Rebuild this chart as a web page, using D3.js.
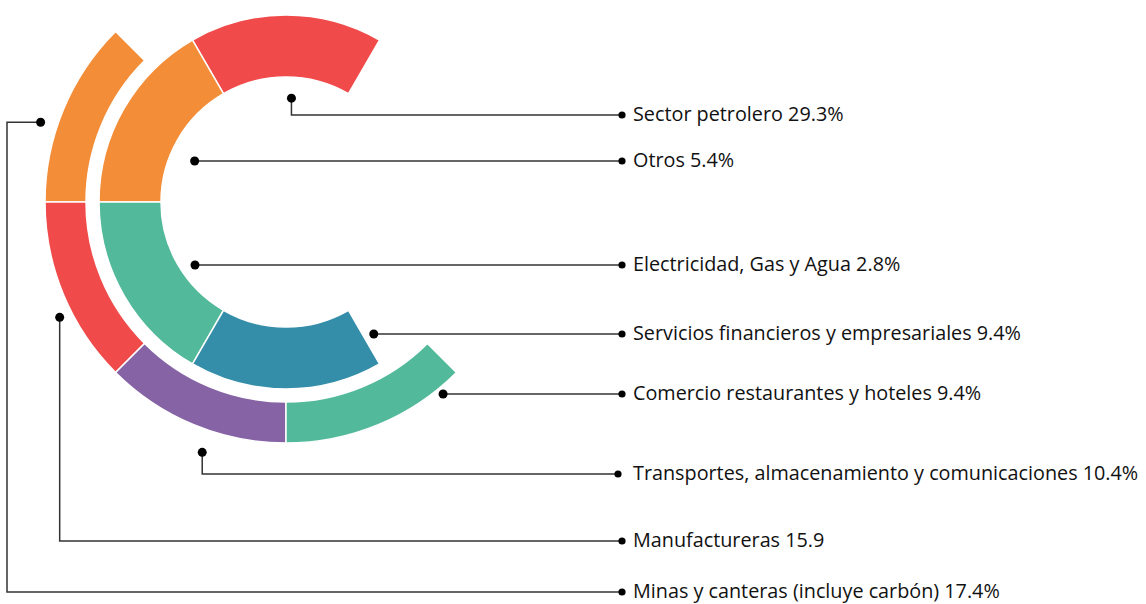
<!DOCTYPE html>
<html>
<head>
<meta charset="utf-8">
<script src="https://cdn.jsdelivr.net/npm/d3@7"></script>
<style>
  html, body { margin: 0; padding: 0; background: #fff; }
  svg { display: block; }
</style>
</head>
<body>
<div id="chart"></div>
<script>
// ── Data ──────────────────────────────────────────────────────────────────
var innerSectors = ["Sector petrolero", "Otros", "Electricidad, Gas y Agua", "Servicios financieros y empresariales"];
var innerValues  = ["29.3%", "5.4%", "2.8%", "9.4%"];
var outerSectors = ["Minas y canteras (incluye carbón)", "Manufactureras", "Transportes, almacenamiento y comunicaciones", "Comercio restaurantes y hoteles"];
var outerValues  = ["17.4%", "15.9", "10.4%", "9.4%"];

// label order, top to bottom, as it appears on the right
var labelOrder = [
  "Sector petrolero", "Otros", "Electricidad, Gas y Agua",
  "Servicios financieros y empresariales", "Comercio restaurantes y hoteles",
  "Transportes, almacenamiento y comunicaciones", "Manufactureras",
  "Minas y canteras (incluye carbón)"
];

// ── Layout ────────────────────────────────────────────────────────────────
var W = 1146, H = 604;
var CX = 286, CY = 202;
var INNER = { r0: 125, r1: 187, start: 30, end: -210 };
var OUTER = { r0: 200, r1: 241, start: -45, end: -225 };
var DOT_X = 622, TEXT_X = 633;
var LABEL_Y = [115, 161, 265, 334, 394, 474, 541, 592];

var COLORS = {
  "Sector petrolero": "#f04b4a",
  "Otros": "#f38d37",
  "Electricidad, Gas y Agua": "#53b99b",
  "Servicios financieros y empresariales": "#358ea9",
  "Minas y canteras (incluye carbón)": "#f38d37",
  "Manufactureras": "#f04b4a",
  "Transportes, almacenamiento y comunicaciones": "#8563a4",
  "Comercio restaurantes y hoteles": "#53b99b"
};

// anchor dot for each label: polar [angle deg, radius], and route type
var ANCHORS = {
  "Sector petrolero":                             { a: 3,      r: 104, route: "down" },
  "Otros":                                        { a: -66,    r: 100, route: "flat" },
  "Electricidad, Gas y Agua":                     { a: -124.7, r: 110.7, route: "flat" },
  "Servicios financieros y empresariales":        { a: 146.5,  r: 159, route: "flat" },
  "Comercio restaurantes y hoteles":              { a: 140.7,  r: 248, route: "flat" },
  "Transportes, almacenamiento y comunicaciones": { a: -161.5, r: 264, route: "down" },
  "Manufactureras":                               { a: -117,   r: 254, route: "down" },
  "Minas y canteras (incluye carbón)":            { a: -72,    r: 258, route: "left", xLeft: 7 }
};

var rad = Math.PI / 180;

var svg = d3.select("#chart").append("svg")
  .attr("width", W).attr("height", H)
  .attr("viewBox", "0 0 " + W + " " + H);

svg.append("rect").attr("width", W).attr("height", H).attr("fill", "#fff");

var g = svg.append("g").attr("transform", "translate(" + CX + "," + CY + ")");

function drawRing(names, ring) {
  var pie = d3.pie().sort(null).value(function () { return 1; })
    .startAngle(ring.start * rad).endAngle(ring.end * rad);
  var arc = d3.arc().innerRadius(ring.r0).outerRadius(ring.r1);
  g.append("g").selectAll("path")
    .data(pie(names))
    .join("path")
      .attr("d", arc)
      .attr("fill", function (d) { return COLORS[d.data]; })
      .attr("stroke", "#fff")
      .attr("stroke-width", 1.5);
}

drawRing(innerSectors, INNER);
drawRing(outerSectors, OUTER);

// ── Leader lines & labels ─────────────────────────────────────────────────
var valueOf = {};
innerSectors.forEach(function (s, i) { valueOf[s] = innerValues[i]; });
outerSectors.forEach(function (s, i) { valueOf[s] = outerValues[i]; });

var lines = svg.append("g");
labelOrder.forEach(function (name, i) {
  var an = ANCHORS[name];
  var ax = CX + an.r * Math.sin(an.a * rad);
  var ay = CY - an.r * Math.cos(an.a * rad);
  var ly = LABEL_Y[i];
  var dx = name === "Transportes, almacenamiento y comunicaciones" ? DOT_X - 4 : DOT_X;

  var pts;
  if (an.route === "flat") pts = [[ax, ly], [dx, ly]];
  else if (an.route === "down") pts = [[ax, ay], [ax, ly], [dx, ly]];
  else pts = [[ax, ay], [an.xLeft, ay], [an.xLeft, ly], [dx, ly]];

  lines.append("path")
    .attr("d", d3.line()(pts))
    .attr("fill", "none")
    .attr("stroke", "#333")
    .attr("stroke-width", 1.5);

  lines.append("circle").attr("cx", ax).attr("cy", an.route === "flat" ? ly : ay)
    .attr("r", 4.5).attr("fill", "#000");
  lines.append("circle").attr("cx", dx).attr("cy", ly)
    .attr("r", 3.6).attr("fill", "#000");

  lines.append("text")
    .attr("x", TEXT_X)
    .attr("y", ly)
    .attr("dy", "0.32em")
    .attr("fill", "#111")
    .attr("font-family", "'Open Sans', 'Noto Sans', sans-serif")
    .attr("font-size", "19.8px")
    .text(name + " " + valueOf[name]);
});
</script>
</body>
</html>
